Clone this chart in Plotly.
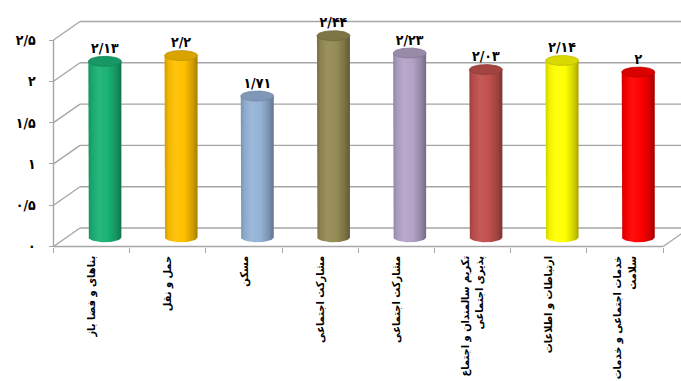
import numpy as np
import plotly.graph_objects as go

# ---------------- data ----------------
categories = [
    "بناهای و فضا باز",
    "حمل و نقل",
    "مسکن",
    "مشارکت اجتماعی",
    "مشارکت اجتماعی",
    "تکریم سالمندان و اجتماع<br>پذیری اجتماعی",
    "ارتباطات و اطلاعات",
    "خدمات اجتماعی و خدمات<br>سلامت",
]
values = [2.13, 2.2, 1.71, 2.44, 2.23, 2.03, 2.14, 2.0]
y_tick_values = [0, 0.5, 1, 1.5, 2, 2.5]

# ---------------- styles ----------------
bar_colors = ["#1ab274", "#ffc000", "#95b3d7", "#948a54",
              "#b3a2c7", "#c0504d", "#ffff00", "#ff0000"]
GRID = "#a6a6a6"
FONT = "DejaVu Sans Condensed, DejaVu Sans, sans-serif"

FA_DIGITS = str.maketrans("0123456789.", "۰۱۲۳۴۵۶۷۸۹/")


def fa(v):
    return f"{v:g}".translate(FA_DIGITS)


y_tick_labels = [fa(v) for v in y_tick_values]
value_labels = [fa(v) for v in values]

# geometry (pixels)
W, H = 681, 381
FX0, CW = 53.5, 76.2      # front-left x, px per category
FY0, VS = 246.5, 82.6     # front zero y, px per unit
DX, DY = 26.5, 18.5       # depth offset
L, B, T, R = 43, 253, 0, 681
PW, PH = R - L, B - T

n = len(values)
xr = [-0.5 - (FX0 - L) / CW, -0.5 + (R - FX0) / CW]
yr = [-(B - FY0) / VS, (FY0 - T) / VS]
dxb, dyb = DX / CW, DY / VS
dxm, dym = dxb / 2, dyb / 2
hw = 16.5 / CW
eh = 5.0 / VS


def mix(c, target, t):
    c = c.lstrip("#")
    r, g, b = int(c[0:2], 16), int(c[2:4], 16), int(c[4:6], 16)
    tr, tg, tb = target
    r = round(r + (tr - r) * t)
    g = round(g + (tg - g) * t)
    b = round(b + (tb - b) * t)
    return f"rgb({r},{g},{b})"


fig = go.Figure()

# walls / floor / grid as shapes
shapes = []
line = dict(color=GRID, width=1.4)
ymax = max(y_tick_values)
for v in y_tick_values:
    shapes.append(dict(type="line", xref="x", yref="y", x0=-0.5 + dxb, y0=v + dyb,
                       x1=n - 0.5 + dxb + 1, y1=v + dyb, line=line, layer="below"))
    shapes.append(dict(type="line", xref="x", yref="y", x0=-0.5, y0=v,
                       x1=-0.5 + dxb, y1=v + dyb, line=line, layer="below"))
shapes.append(dict(type="line", xref="x", yref="y", x0=-0.5, y0=0, x1=-0.5, y1=ymax,
                   line=line, layer="below"))
shapes.append(dict(type="line", xref="x", yref="y", x0=-0.5, y0=0, x1=n - 0.5, y1=0,
                   line=line, layer="below"))
shapes.append(dict(type="line", xref="x", yref="y", x0=n - 0.5, y0=0,
                   x1=n - 0.5 + dxb, y1=dyb, line=line, layer="below"))

# cylinders
t_low = np.linspace(np.pi, 2 * np.pi, 40)
t_full = np.linspace(0, 2 * np.pi, 80)
for i, (v, c) in enumerate(zip(values, bar_colors)):
    cx = i + dxm
    yb = dym
    yt = v + dym
    bx = [cx - hw, cx - hw] + list(cx + hw * np.cos(t_low)) + [cx + hw, cx - hw]
    by = [yt, yb] + list(yb + eh * np.sin(t_low)) + [yt, yt]
    cs = [[0.0, mix(c, (0, 0, 0), 0.18)],
          [0.12, mix(c, (0, 0, 0), 0.05)],
          [0.32, mix(c, (255, 255, 255), 0.06)],
          [0.6, c],
          [0.85, mix(c, (0, 0, 0), 0.18)],
          [1.0, mix(c, (0, 0, 0), 0.35)]]
    fig.add_trace(go.Scatter(
        x=bx, y=by, mode="lines", fill="toself", line=dict(width=0),
        fillgradient=dict(type="horizontal", colorscale=cs),
        hoverinfo="skip", showlegend=False))
    lx = cx + hw * np.cos(t_full)
    ly = yt + eh * np.sin(t_full)
    fig.add_trace(go.Scatter(
        x=lx, y=ly, mode="lines", fill="toself",
        fillcolor=mix(c, (0, 0, 0), 0.15),
        line=dict(width=0.8, color=mix(c, (0, 0, 0), 0.25)),
        hoverinfo="skip", showlegend=False))

# value labels
fig.add_trace(go.Scatter(
    x=[i + dxm for i in range(n)],
    y=[v + dym + eh for v in values],
    mode="text", text=value_labels, textposition="top center",
    textfont=dict(family=FONT, size=14, color="black", weight="bold"),
    hoverinfo="skip", showlegend=False, cliponaxis=False))

fig.update_layout(
    width=W, height=H,
    margin=dict(l=L, r=W - R, t=T, b=H - B, pad=0, autoexpand=False),
    paper_bgcolor="white", plot_bgcolor="white",
    shapes=shapes,
    showlegend=False,
    xaxis=dict(
        range=xr, showgrid=False, zeroline=False, showline=False,
        automargin=False,
        tickmode="array", tickvals=list(range(n)), ticktext=categories,
        tickangle=-90, ticks="outside", ticklen=0, tickcolor="rgba(0,0,0,0)",
        tickfont=dict(family=FONT, size=11, color="black", weight="bold"),
        ticklabelstandoff=4,
        anchor="free", position=(B - FY0) / PH,
        minor=dict(tickmode="array", tickvals=[k - 0.5 for k in range(n + 1)],
                   ticks="outside", ticklen=5, tickcolor=GRID, tickwidth=1.4,
                   showgrid=False),
        fixedrange=True,
    ),
    yaxis=dict(
        range=yr, showgrid=False, zeroline=False, showline=False,
        automargin=False,
        tickmode="array", tickvals=y_tick_values, ticktext=y_tick_labels,
        ticks="outside", ticklen=5, tickcolor=GRID, tickwidth=1.4,
        tickfont=dict(family=FONT, size=14, color="black", weight="bold"),
        ticklabelstandoff=10,
        anchor="free", position=(FX0 - L) / PW,
        fixedrange=True,
    ),
)

fig.write_html("out.html")
